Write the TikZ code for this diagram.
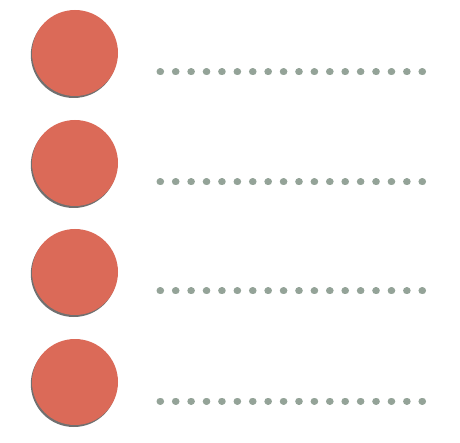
\documentclass[tikz,border=0pt]{standalone}
\usepackage{tikz}
\usetikzlibrary{shadows}
\definecolor{bulletred} {RGB}{219,106,88}
\definecolor{dotgray}   {RGB}{148,163,152}
\tikzset{
  bullet/.style  ={circle, fill=bulletred, minimum size=86pt, inner sep=0pt,
                   drop shadow={shadow xshift=-1.2pt, shadow yshift=-2pt,
                                opacity=0.7, fill=black!80}},
  dotline/.style ={dotgray, line width=7pt, line cap=round,
                   dash pattern=on 0.6pt off 14.81pt},
}

\begin{document}
\begin{tikzpicture}[x=1pt, y=-1pt]

\useasboundingbox (0,0) rectangle (460,443);

%% ─── Bullets and dotted rules ───────────────────────────────────────────────
\foreach \i/\y in {1/53, 2/163, 3/272, 4/382}{
  \node[bullet] (B\i) at (75, \y) {};
  \coordinate (L\i) at (160, \y+19);
  \coordinate (R\i) at (423, \y+19);
  \draw[dotline] (L\i) -- (R\i);
}

\end{tikzpicture}
\end{document}
